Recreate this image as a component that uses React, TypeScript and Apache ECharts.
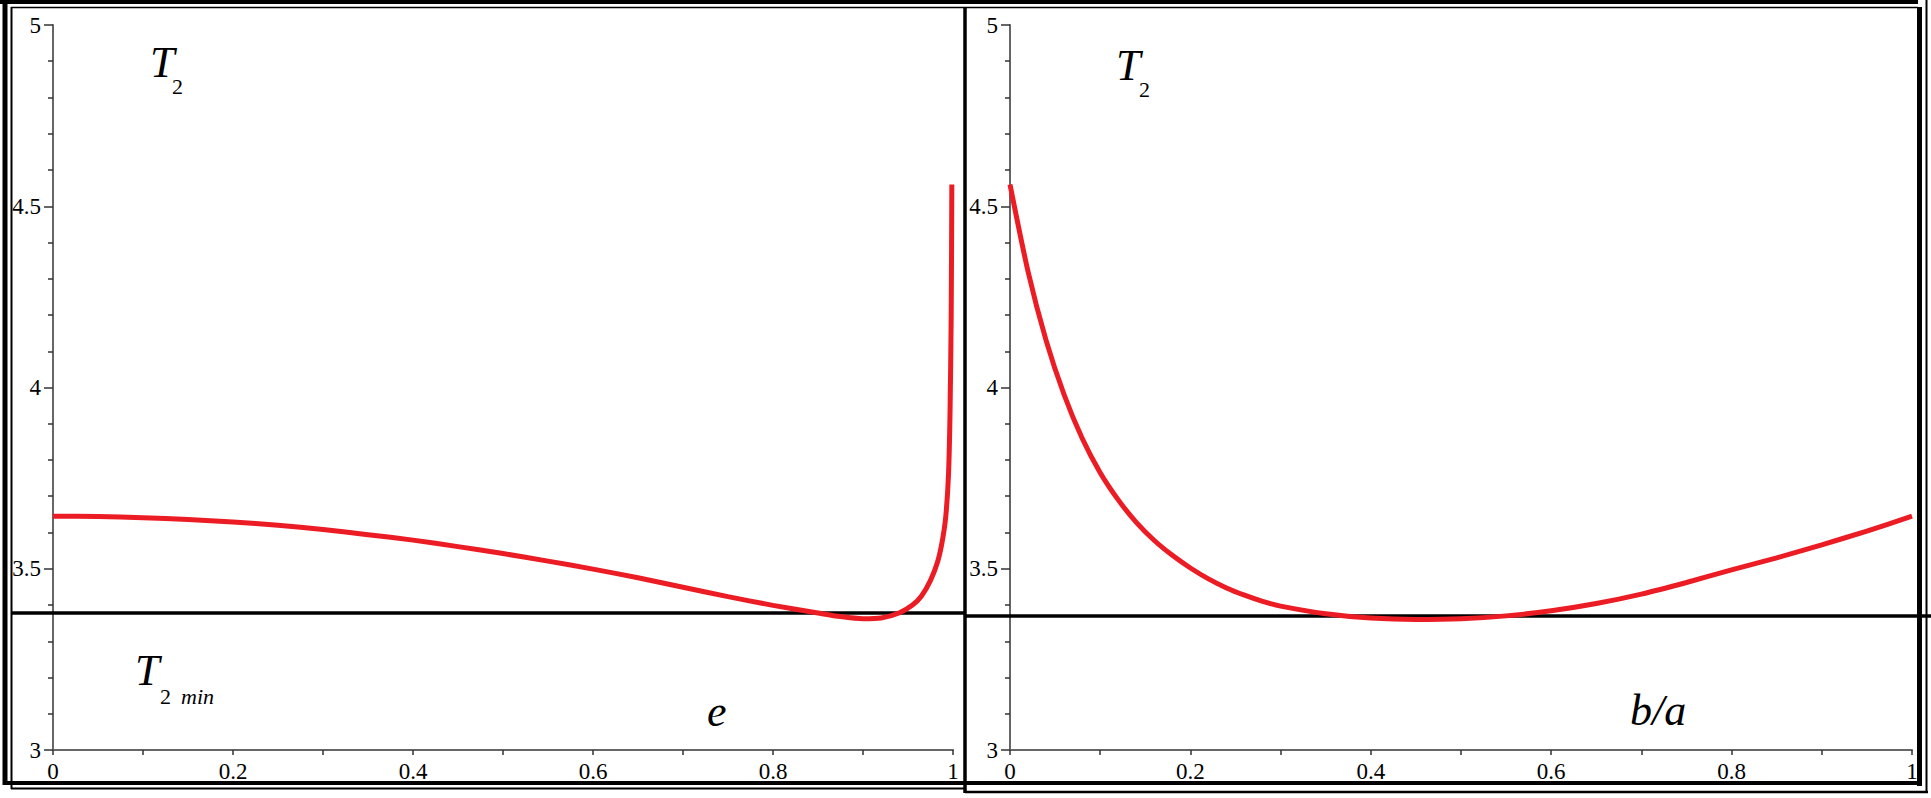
import React, { useEffect, useRef } from "react";
import * as echarts from "echarts";

// ---- data ----
const eVals = [0, 0.05, 0.1, 0.15, 0.2, 0.25, 0.3, 0.35, 0.4, 0.45, 0.5, 0.55, 0.6, 0.65, 0.7, 0.75, 0.8, 0.85, 0.875, 0.9, 0.92, 0.94, 0.955, 0.965, 0.975, 0.983, 0.988, 0.992, 0.995, 0.9967, 0.998, 0.9987];
const t2OfE = [3.645, 3.644, 3.641, 3.636, 3.629, 3.62, 3.608, 3.594, 3.579, 3.561, 3.542, 3.521, 3.499, 3.475, 3.449, 3.423, 3.399, 3.378, 3.368, 3.362, 3.364, 3.378, 3.4, 3.425, 3.468, 3.52, 3.575, 3.645, 3.76, 3.93, 4.2, 4.56];

const baVals = [0, 0.02, 0.04, 0.06, 0.08, 0.1, 0.12, 0.14, 0.16, 0.18, 0.2, 0.22, 0.24, 0.26, 0.28, 0.3, 0.35, 0.4, 0.45, 0.5, 0.55, 0.6, 0.65, 0.7, 0.75, 0.8, 0.85, 0.9, 0.95, 1.0];
const t2OfBa = [4.56, 4.32, 4.13, 3.98, 3.86, 3.765, 3.69, 3.628, 3.578, 3.537, 3.502, 3.472, 3.447, 3.427, 3.41, 3.397, 3.376, 3.364, 3.36, 3.362, 3.37, 3.384, 3.404, 3.43, 3.462, 3.497, 3.53, 3.566, 3.604, 3.645];

const t2MinLeft = 3.378;
const t2MinRight = 3.37;

const xTicks = [0, 0.2, 0.4, 0.6, 0.8, 1];
const yTicks = [3, 3.5, 4, 4.5, 5];

const SERIF = "'Liberation Serif', 'DejaVu Serif', serif";
const RED = "#ec1c24";

function axisX(gridIndex: number) {
  return {
    gridIndex,
    type: "value",
    min: xTicks[0],
    max: xTicks[xTicks.length - 1],
    interval: xTicks[1] - xTicks[0],
    axisLine: { show: true, onZero: false, lineStyle: { color: "#666", width: 2 } },
    axisTick: { show: true, length: 5, lineStyle: { color: "#333", width: 1.5 } },
    minorTick: { show: true, splitNumber: 2, length: 5, lineStyle: { color: "#333", width: 1.5 } },
    splitLine: { show: false },
    minorSplitLine: { show: false },
    axisLabel: { fontFamily: SERIF, fontSize: 23, color: "#000", margin: 10 },
  };
}

function axisY(gridIndex: number) {
  return {
    gridIndex,
    type: "value",
    min: yTicks[0],
    max: yTicks[yTicks.length - 1],
    interval: yTicks[1] - yTicks[0],
    axisLine: { show: true, onZero: false, lineStyle: { color: "#666", width: 2 } },
    axisTick: { show: true, length: 9, lineStyle: { color: "#333", width: 1.5 } },
    minorTick: { show: true, splitNumber: 5, length: 5, lineStyle: { color: "#333", width: 1.5 } },
    splitLine: { show: false },
    minorSplitLine: { show: false },
    axisLabel: { fontFamily: SERIF, fontSize: 23, color: "#000", margin: 12 },
  };
}

function hiddenX(gridIndex: number) {
  return { gridIndex, type: "value", min: 0, max: 1, show: false };
}
function hiddenY(gridIndex: number) {
  return { gridIndex, type: "value", min: yTicks[0], max: yTicks[yTicks.length - 1], show: false };
}

function line(x1: number, y1: number, x2: number, y2: number, w: number) {
  return {
    type: "line",
    z: 100,
    shape: { x1, y1, x2, y2 },
    style: { stroke: "#000", lineWidth: w },
  };
}

function txt(text: string, x: number, y: number, size: number, italic: boolean) {
  return {
    type: "text",
    z: 100,
    x,
    y,
    style: {
      text,
      fontFamily: SERIF,
      fontSize: size,
      fontStyle: italic ? "italic" : "normal",
      fill: "#000",
      align: "left",
      verticalAlign: "middle",
    },
  };
}

export default function App() {
  const ref = useRef<HTMLDivElement>(null);
  useEffect(() => {
    if (!ref.current) return;
    const chart = echarts.init(ref.current, undefined, { renderer: "svg" });
    chart.setOption({
      animation: false,
      backgroundColor: "#fff",
      grid: [
        { left: 53, top: 25, width: 900, height: 725 },
        { left: 1010, top: 25, width: 902, height: 725 },
        { left: 12, top: 25, width: 953, height: 725 },
        { left: 965, top: 25, width: 966, height: 725 },
      ],
      xAxis: [axisX(0), axisX(1), hiddenX(2), hiddenX(3)],
      yAxis: [axisY(0), axisY(1), hiddenY(2), hiddenY(3)],
      series: [
        {
          type: "line",
          xAxisIndex: 2,
          yAxisIndex: 2,
          data: [[0, t2MinLeft], [1, t2MinLeft]],
          showSymbol: false,
          lineStyle: { color: "#000", width: 3.5 },
          silent: true,
        },
        {
          type: "line",
          xAxisIndex: 3,
          yAxisIndex: 3,
          data: [[0, t2MinRight], [1, t2MinRight]],
          showSymbol: false,
          lineStyle: { color: "#000", width: 3.5 },
          silent: true,
        },
        {
          type: "line",
          xAxisIndex: 0,
          yAxisIndex: 0,
          data: eVals.map((x, i) => [x, t2OfE[i]]),
          smooth: 0.25,
          showSymbol: false,
          lineStyle: { color: RED, width: 5 },
          z: 5,
        },
        {
          type: "line",
          xAxisIndex: 1,
          yAxisIndex: 1,
          data: baVals.map((x, i) => [x, t2OfBa[i]]),
          smooth: 0.25,
          showSymbol: false,
          lineStyle: { color: RED, width: 5 },
          z: 5,
        },
      ],
      graphic: [
        // frames
        line(0, 2, 1918, 2, 4),
        line(11, 7.5, 1918, 7.5, 1.5),
        line(5, 0, 5, 785, 5),
        line(11.5, 7, 11.5, 789, 2),
        line(5, 783, 1921, 783, 4),
        line(11, 788.5, 965, 788.5, 2),
        line(965, 792, 1928, 792, 2.5),
        line(965, 7, 965, 793, 3.5),
        line(1919.5, 7, 1919.5, 786, 5),
        line(1926.5, 0, 1926.5, 793, 2),
        // annotations
        txt("T", 150, 62, 44, true),
        txt("2", 172, 86, 22, false),
        txt("T", 1116, 65, 44, true),
        txt("2", 1139, 89, 22, false),
        txt("T", 135, 670, 44, true),
        txt("2", 160, 696, 22, false),
        txt("min", 181, 696, 22, true),
        txt("e", 707, 711, 44, true),
        txt("b/a", 1630, 710, 44, true),
      ],
    });
    return () => chart.dispose();
  }, []);
  return (
    <div
      ref={ref}
      style={{ position: "absolute", left: 0, top: 0, width: 1931, height: 798 }}
    />
  );
}
